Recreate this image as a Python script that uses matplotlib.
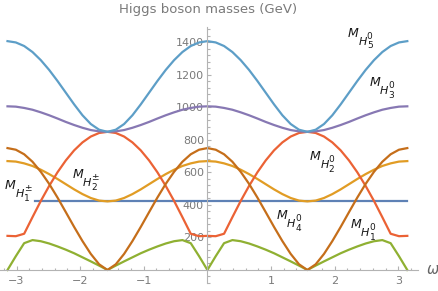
import numpy as np
import matplotlib
matplotlib.use("Agg")
import matplotlib.pyplot as plt
from matplotlib.ticker import MultipleLocator, FixedLocator

omega = np.linspace(-np.pi, np.pi, 49)

m_h5 = [1408, 1400, 1378, 1341, 1291, 1231, 1163, 1091, 1019, 952, 898, 863, 850,
        863, 898, 952, 1019, 1091, 1163, 1231, 1291, 1341, 1378, 1400, 1408,
        1400, 1378, 1341, 1291, 1231, 1163, 1091, 1019, 952, 898, 863, 850,
        863, 898, 952, 1019, 1091, 1163, 1231, 1291, 1341, 1378, 1400, 1408]

m_h3 = [1007, 1005, 997, 986, 970, 952, 932, 911, 892, 875, 861, 853, 850,
        853, 861, 875, 892, 911, 932, 952, 970, 986, 997, 1005, 1007,
        1005, 997, 986, 970, 952, 932, 911, 892, 875, 861, 853, 850,
        853, 861, 875, 892, 911, 932, 952, 970, 986, 997, 1005, 1007]

m_h2pm = [670, 667, 656, 640, 617, 590, 560, 528, 496, 467, 443, 427, 422,
          427, 443, 467, 496, 528, 560, 590, 617, 640, 656, 667, 670,
          667, 656, 640, 617, 590, 560, 528, 496, 467, 443, 427, 422,
          427, 443, 467, 496, 528, 560, 590, 617, 640, 656, 667, 670]

m_h1 = [0, 85, 165, 184, 177, 163, 145, 125, 103, 78, 53, 27, 0,
        27, 53, 78, 103, 125, 145, 163, 177, 184, 165, 85, 0,
        85, 165, 184, 177, 163, 145, 125, 103, 78, 53, 27, 0,
        27, 53, 78, 103, 125, 145, 163, 177, 184, 165, 85, 0]

m_h2 = [210, 208, 223, 325, 425, 517, 601, 674, 736, 785, 821, 843, 850,
        843, 821, 785, 736, 674, 601, 517, 425, 325, 223, 208, 210,
        208, 223, 325, 425, 517, 601, 674, 736, 785, 821, 843, 850,
        843, 821, 785, 736, 674, 601, 517, 425, 325, 223, 208, 210]

m_h4 = [750, 740, 712, 666, 604, 530, 446, 356, 265, 178, 99, 35, 0,
        35, 99, 178, 265, 356, 446, 530, 604, 666, 712, 740, 750,
        740, 712, 666, 604, 530, 446, 356, 265, 178, 99, 35, 0,
        35, 99, 178, 265, 356, 446, 530, 604, 666, 712, 740, 750]

h1pm_omega = [-2.71, np.pi]
m_h1pm = [424, 424]

x_ticks = [-3, -2, -1, 1, 2, 3]
x_tick_labels = ["\u22123", "\u22122", "\u22121", "1", "2", "3"]
y_ticks = [200, 400, 600, 800, 1000, 1200, 1400]

# curve labels: (superscript, subscript, anchor omega, anchor mass)
label_sup = ["0", "0", "0", "0", "0", "\u00b1", "\u00b1"]
label_sub = ["5", "3", "2", "4", "1", "2", "1"]
label_x = [2.21, 2.551, 1.612, 1.089, 2.252, -2.117, -3.181]
label_y = [1435, 1132, 677, 312, 256, 564, 496]

# ---- figure ----
W, H = 438, 291
fig = plt.figure(figsize=(W / 100, H / 100), dpi=100)
ax = fig.add_axes([0 / W, 8 / H, 418 / W, 256 / H])

lw = 1.6
ax.plot(h1pm_omega, m_h1pm, color="#5E81B5", lw=lw)
ax.plot(omega, m_h2pm, color="#E19C24", lw=lw)
ax.plot(omega, m_h1, color="#8FB032", lw=lw)
ax.plot(omega, m_h2, color="#EB6235", lw=lw)
ax.plot(omega, m_h3, color="#8778B3", lw=lw)
ax.plot(omega, m_h4, color="#C56E1A", lw=lw)
ax.plot(omega, m_h5, color="#5D9EC7", lw=lw)

ax.set_xlim(-3.2595, 3.3097)
ax.set_ylim(-80, 1495)

for s in ["top", "right"]:
    ax.spines[s].set_visible(False)
ax.spines["left"].set_position(("data", 0))
ax.spines["bottom"].set_position(("data", 0))
axis_col = "#b3b3b3"
for s in ["left", "bottom"]:
    ax.spines[s].set_color(axis_col)
    ax.spines[s].set_linewidth(0.8)

ax.xaxis.set_major_locator(FixedLocator(x_ticks))
ax.set_xticklabels(x_tick_labels)
ax.xaxis.set_minor_locator(MultipleLocator(0.2))
ax.yaxis.set_major_locator(FixedLocator(y_ticks))
ax.yaxis.set_minor_locator(MultipleLocator(40))
ax.tick_params(which="both", direction="in", color=axis_col, width=0.8,
               labelcolor="#7a7a7a", labelsize=8)
ax.tick_params(which="major", length=3)
ax.tick_params(which="minor", length=1.8)
ax.tick_params(axis="x", pad=4)
ax.tick_params(axis="y", pad=2.5)
ax.set_axisbelow(True)

ax.text(3.451, 0, "\u03c9", fontsize=10.5, style="italic", color="#666666",
        ha="left", va="center", clip_on=False)

txt_col = "#1a1a1a"
for sup, sub, x, y in zip(label_sup, label_sub, label_x, label_y):
    kw = dict(xy=(x, y), xycoords="data", textcoords="offset pixels",
              ha="left", va="baseline", color=txt_col, annotation_clip=False)
    ax.annotate("M", xytext=(0, 0), fontsize=9, style="italic", **kw)
    ax.annotate("H", xytext=(10.3, -7.8), fontsize=8, style="italic", **kw)
    ax.annotate(sup, xytext=(18.6, -2.0), fontsize=6.5, **kw)
    ax.annotate(sub, xytext=(18.8, -11.6), fontsize=6.5, **kw)

fig.text(208 / W, 1 - 9 / H, "Higgs boson masses (GeV)", ha="center",
         va="center", fontsize=9.5, color="#7a7a7a")

fig.savefig("out.png", dpi=100)
